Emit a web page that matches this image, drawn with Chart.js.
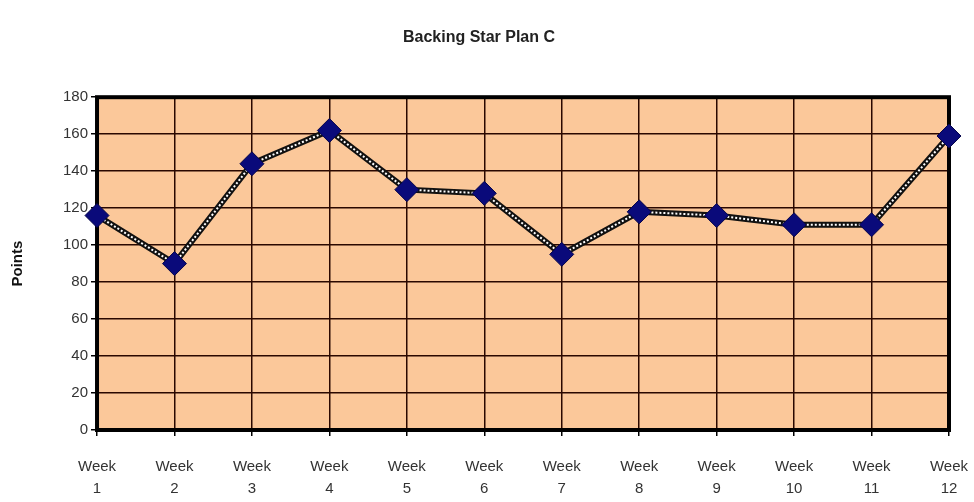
<!DOCTYPE html>
<html>
<head>
<meta charset="utf-8">
<script src="https://cdn.jsdelivr.net/npm/chart.js@4"></script>
<style>
  html, body { margin: 0; padding: 0; background: #fff; }
  #wrap { width: 974px; height: 502px; }
</style>
</head>
<body>
<div id="wrap"><canvas id="myChart" width="974" height="502"></canvas></div>
<script>
const weeks = ["1", "2", "3", "4", "5", "6", "7", "8", "9", "10", "11", "12"];
const points = [116, 90, 144, 162, 130, 128, 95, 118, 116, 111, 111, 159];
const yTicks = [0, 20, 40, 60, 80, 100, 120, 140, 160, 180];

const labels = weeks.map(w => ["Week", w]);

// fond orange + cadre noir de la zone de tracé
const plotArea = {
    id: 'plotArea',
    beforeDraw(chart) {
        const { ctx, chartArea: a } = chart;
        ctx.save();
        ctx.fillStyle = '#FBC89A';
        ctx.fillRect(a.left, a.top, a.right - a.left, a.bottom - a.top);
        ctx.restore();
    },
    beforeDatasetsDraw(chart) {
        const { ctx, chartArea: a } = chart;
        ctx.save();
        ctx.strokeStyle = '#000';
        ctx.lineWidth = 4;
        ctx.strokeRect(a.left, a.top, a.right - a.left, a.bottom - a.top);
        ctx.restore();
    }
};

const ctx = document.getElementById('myChart').getContext('2d');
const chart = new Chart(ctx, {
    type: 'line',
    data: {
        labels: labels,
        datasets: [{
            data: points,
            borderColor: '#111',
            borderWidth: 6,
            pointRadius: 0,
            tension: 0,
            order: 3
        }, {
            data: points,
            borderColor: '#fff',
            borderWidth: 2,
            borderDash: [2, 2],
            pointRadius: 0,
            tension: 0,
            order: 2
        }, {
            data: points,
            showLine: false,
            pointStyle: 'rectRot',
            pointRadius: 12,
            pointBackgroundColor: '#0A0A7A',
            pointBorderColor: '#05054A',
            pointBorderWidth: 1,
            order: 1
        }]
    },
    options: {
        responsive: false,
        animation: false,
        layout: { padding: { top: 0, right: 25, bottom: 2, left: 9 } },
        plugins: {
            legend: { display: false },
            tooltip: { enabled: false },
            title: {
                display: true,
                text: 'Backing Star Plan C',
                color: '#222',
                font: { family: 'Liberation Sans', size: 16, weight: 'bold' },
                padding: { top: 28, bottom: 50 }
            }
        },
        scales: {
            x: {
                offset: false,
                afterFit(scale) {
                    scale.height = 70;
                    scale.paddingLeft = 0;
                    scale.paddingRight = 0;
                },
                grid: {
                    color: '#2A0800',
                    lineWidth: 1.5,
                    tickLength: 6,
                    tickColor: '#000'
                },
                border: { display: false },
                ticks: {
                    color: '#333',
                    maxRotation: 0,
                    font: { family: 'Liberation Sans', size: 15, lineHeight: 1.45 },
                    padding: 20
                }
            },
            y: {
                min: 0,
                max: 180,
                afterBuildTicks(scale) { scale.ticks = yTicks.map(v => ({ value: v })); },
                grid: {
                    color: '#2A0800',
                    lineWidth: 1.5,
                    tickLength: 6,
                    tickColor: '#000'
                },
                border: { display: false },
                ticks: {
                    color: '#333',
                    font: { family: 'Liberation Sans', size: 15 },
                    padding: 3
                },
                title: {
                    display: true,
                    text: 'Points',
                    color: '#111',
                    font: { family: 'Liberation Sans', size: 15, weight: 'bold' },
                    padding: { top: 0, bottom: 33 }
                }
            }
        }
    },
    plugins: [plotArea]
});
</script>
</body>
</html>
